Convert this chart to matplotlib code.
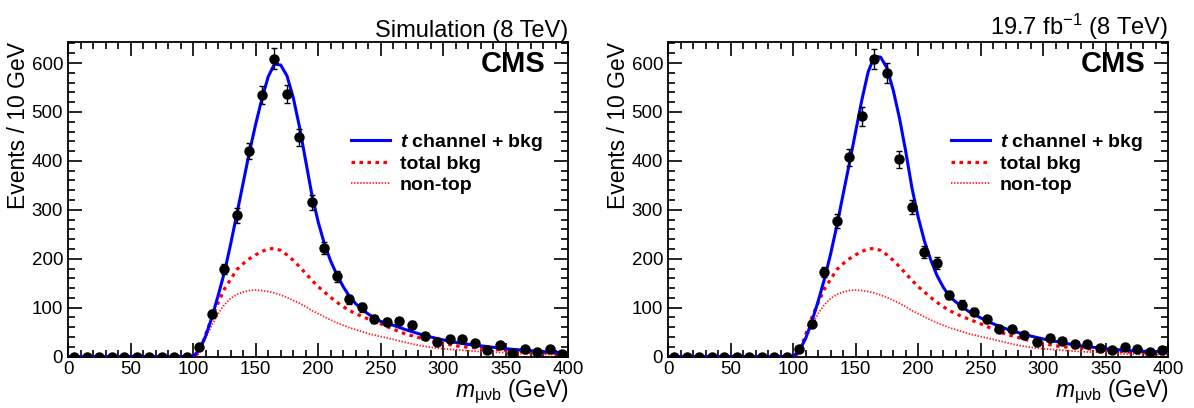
import numpy as np
import matplotlib
matplotlib.use("Agg")
import matplotlib.pyplot as plt
from matplotlib.ticker import MultipleLocator

plt.rcParams['font.family'] = ['Liberation Sans', 'DejaVu Sans']
plt.rcParams['mathtext.fontset'] = 'custom'
plt.rcParams['mathtext.rm'] = 'Liberation Sans'
plt.rcParams['mathtext.it'] = 'Liberation Sans:italic'
plt.rcParams['mathtext.bf'] = 'Liberation Sans:bold'
plt.rcParams['mathtext.bfit'] = 'Liberation Sans:bold:italic'
plt.rcParams['axes.unicode_minus'] = False

# bin centres (10 GeV bins)
bins = np.arange(5, 400, 10)

# pseudo-data, simulation (left)
sim_y = [0, 0, 0, 0, 0, 0, 0, 0, 0, 0,
         19, 88, 179, 289, 420, 535, 609, 537, 448, 315,
         222, 164, 117, 101, 77, 71, 72, 65, 43, 30,
         35, 35, 28, 13, 23, 8, 15, 9, 16, 6]
sim_err = [1, 1, 1, 1, 1, 1, 1, 1, 1, 1,
           4, 8, 11, 15, 17, 19, 21, 19, 17, 15,
           12, 11, 9, 9, 8, 7, 7, 7, 6, 5,
           5, 5, 5, 3, 4, 3, 4, 3, 4, 2]

# data 19.7 fb-1 (right)
data_y = [0, 0, 0, 0, 0, 0, 0, 0, 0, 0,
          15, 67, 173, 277, 407, 491, 608, 580, 403, 306,
          214, 191, 126, 106, 92, 76, 57, 56, 44, 29,
          39, 32, 25, 25, 18, 13, 20, 15, 9, 13]
data_err = [1, 1, 1, 1, 1, 1, 1, 1, 1, 1,
            4, 7, 11, 14, 17, 19, 21, 20, 17, 15,
            12, 12, 9, 9, 8, 7, 7, 6, 6, 5,
            5, 5, 4, 4, 4, 3, 4, 3, 3, 3]

# fitted curves
cx = [0, 100, 105, 110, 115, 120, 125, 130, 135, 140, 145, 150, 155, 160, 165,
      170, 175, 180, 185, 190, 195, 200, 205, 210, 215, 220, 225, 230, 235,
      240, 245, 250, 260, 270, 280, 290, 300, 310, 320, 330, 340, 350, 360,
      370, 380, 390, 400]
fit_sim = [0, 0, 14, 42, 80, 125, 172, 230, 292, 355, 418, 475, 527, 572, 598,
           596, 574, 530, 470, 400, 330, 275, 230, 195, 167, 143, 123, 108, 97,
           87, 79, 72, 64, 55, 47, 40, 34, 29, 25, 22, 19, 16, 14,
           12, 10, 9, 8]
fit_data = [0, 0, 12, 37, 72, 113, 158, 210, 268, 332, 395, 460, 525, 582, 614,
            612, 590, 545, 488, 420, 345, 285, 236, 198, 166, 142, 123, 112, 102,
            93, 86, 79, 67, 57, 49, 42, 36, 31, 26, 22, 19, 16, 14,
            12, 11, 10, 9]
total_bkg = [0, 0, 8, 45, 80, 110, 138, 158, 178, 190, 200, 208, 215, 220, 221,
             217, 208, 197, 184, 170, 156, 143, 132, 121, 111, 102, 94, 88, 82,
             77, 72, 67, 56, 46, 39, 32, 27, 22, 19, 17, 15, 13, 11,
             9, 8, 7, 6]
non_top = [0, 0, 12, 38, 64, 88, 106, 119, 127, 132, 135, 136, 135, 133, 130,
           126, 121, 115, 109, 102, 94, 88, 81, 75, 69, 64, 59, 55, 51,
           47, 44, 41, 35, 29, 23, 19, 16, 14, 12, 10, 9, 8, 6,
           5, 4.5, 4, 3.5]

titles = ['Simulation (8 TeV)', r'19.7 fb$^{-1}$ (8 TeV)']
points = [(sim_y, sim_err, fit_sim), (data_y, data_err, fit_data)]

fig = plt.figure(figsize=(11.94, 4.08), dpi=100)
lefts = [0.057, 0.5595]

for i in range(2):
    ax = fig.add_axes([lefts[i], 0.126, 0.419, 0.771])
    yv, ev, fv = points[i]

    ax.plot(cx, non_top, color='#ff2020', lw=1.3, ls=(0, (0.8, 0.9)), label='non-top', zorder=2)
    ax.plot(cx, total_bkg, color='#ff0000', lw=2.3, ls=(0, (1.1, 1.4)), label='total bkg', zorder=3)
    ax.plot(cx, fv, color='#0000ff', lw=2.2, label=r'$\mathbfit{t}$ channel + bkg', zorder=4)
    ax.errorbar(bins, yv, yerr=ev, fmt='o', color='black', ms=6.5, elinewidth=1,
                capsize=2, capthick=1, zorder=5)

    ax.set_xlim(0, 400)
    ax.set_ylim(0, 643)
    ax.xaxis.set_major_locator(MultipleLocator(50))
    ax.xaxis.set_minor_locator(MultipleLocator(10))
    ax.yaxis.set_major_locator(MultipleLocator(100))
    ax.yaxis.set_minor_locator(MultipleLocator(20))
    ax.tick_params(which='both', direction='in', top=True, right=True, labelsize=13.5, width=1.2)
    ax.tick_params(which='major', length=10)
    ax.tick_params(which='minor', length=5)
    ax.tick_params(axis='x', pad=3)
    for s in ax.spines.values():
        s.set_linewidth(1.3)

    ax.set_xlabel(r'$m_{\mathrm{\mu\nu b}}$ (GeV)', fontsize=16.5, loc='right', labelpad=0)
    ax.set_ylabel('Events / 10 GeV', fontsize=16.5, loc='top', labelpad=1)
    ax.set_title(titles[i], fontsize=17, loc='right', pad=3)
    ax.text(0.955, 0.93, 'CMS', transform=ax.transAxes, fontsize=21, fontweight='bold',
            ha='right', va='center')

    h, l = ax.get_legend_handles_labels()
    ax.legend(h[::-1], l[::-1], loc='upper left', bbox_to_anchor=(0.55, 0.74), frameon=False,
              prop={'weight': 'bold', 'size': 14}, handlelength=2.0, handletextpad=0.5,
              labelspacing=0.15, borderaxespad=0)

fig.savefig('out.png', dpi=100)
